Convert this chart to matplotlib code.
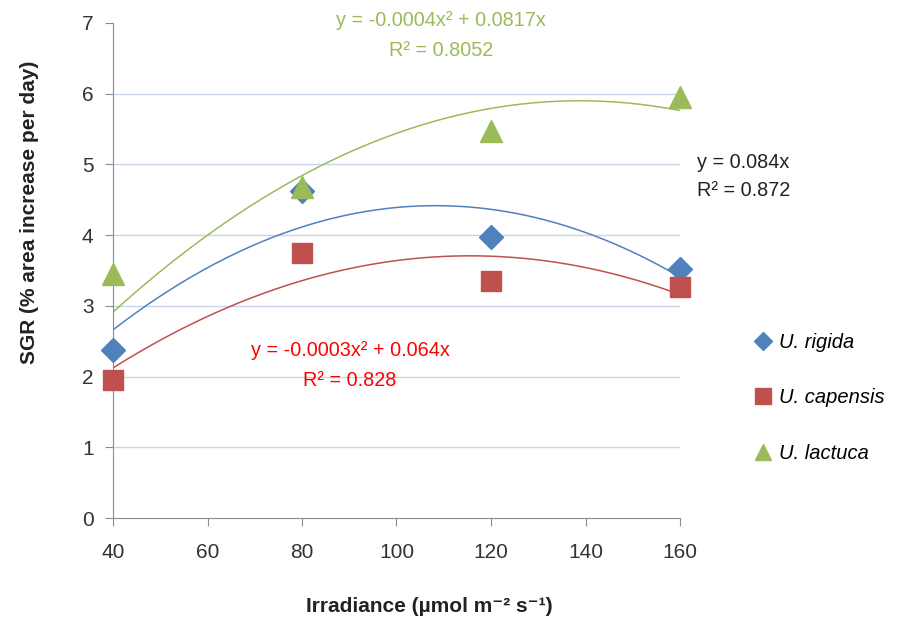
import numpy as np
import matplotlib
matplotlib.use("Agg")
import matplotlib.pyplot as plt

plt.rcParams['font.family'] = ['Liberation Sans', 'DejaVu Sans']

irradiance = [40, 80, 120, 160]
rigida = [2.37, 4.63, 3.97, 3.52]
capensis = [1.95, 3.75, 3.35, 3.27]
lactuca = [3.45, 4.68, 5.47, 5.95]

series = [
    ("U. rigida", rigida, "D", "#4F81BD", 12),
    ("U. capensis", capensis, "s", "#C0504D", 15),
    ("U. lactuca", lactuca, "^", "#9BBB59", 16),
]

W, H = 900, 630
fig = plt.figure(figsize=(9, 6.3), dpi=100)
ax = fig.add_axes([113 / W, 1 - 518 / H, (680 - 113) / W, (518 - 23) / H])

x = np.array(irradiance, dtype=float)
xs = np.linspace(40, 160, 200)
handles = []
for name, ys, mk, col, ms in series:
    # quadratic trendline forced through the origin (as in Excel)
    A = np.column_stack([x ** 2, x])
    coef, *_ = np.linalg.lstsq(A, np.array(ys), rcond=None)
    ax.plot(xs, coef[0] * xs ** 2 + coef[1] * xs, color=col, lw=1.1, zorder=2)
for name, ys, mk, col, ms in series:
    h, = ax.plot(irradiance, ys, linestyle="none", marker=mk, markersize=ms,
                 color=col, markeredgecolor=col, clip_on=False, zorder=3, label=name)
    handles.append(h)

ax.set_xlim(40, 160)
ax.set_ylim(0, 7)
ax.set_xticks(range(40, 161, 20))
ax.set_yticks(range(0, 8))
ax.yaxis.grid(True, color="#C9D5EA", lw=1)
ax.set_axisbelow(True)
gl = ax.get_ygridlines()
gl[0].set_visible(False)
gl[-1].set_visible(False)
for s in ["top", "right"]:
    ax.spines[s].set_visible(False)
for s in ["left", "bottom"]:
    ax.spines[s].set_color("#8C8C8C")
ax.tick_params(axis="both", colors="#8C8C8C", labelcolor="#333333", labelsize=15,
               length=6, direction="out")
ax.tick_params(axis="x", pad=12)
ax.tick_params(axis="y", pad=8)

fig.text(30 / W, 1 - 212 / H, "SGR (% area increase per day)", rotation=90,
         ha="center", va="center", fontsize=15, fontweight="bold", color="#222222")
fig.text(429 / W, 1 - 607 / H, "Irradiance (µmol m⁻² s⁻¹)", ha="center", va="center",
         fontsize=15, fontweight="bold", color="#222222")

fig.text(441 / W, 1 - 20 / H, "y = -0.0004x² + 0.0817x", ha="center", va="center",
         fontsize=14.3, color="#9BBB59")
fig.text(441 / W, 1 - 50 / H, "R² = 0.8052", ha="center", va="center",
         fontsize=14.3, color="#9BBB59")
fig.text(697 / W, 1 - 162 / H, "y = 0.084x", ha="left", va="center",
         fontsize=14.3, color="#222222")
fig.text(697 / W, 1 - 191 / H, "R² = 0.872", ha="left", va="center",
         fontsize=14.3, color="#222222")
fig.text(350 / W, 1 - 351 / H, "y = -0.0003x² + 0.064x", ha="center", va="center",
         fontsize=14.3, color="#FF0000")
fig.text(350 / W, 1 - 380 / H, "R² = 0.828", ha="center", va="center",
         fontsize=14.3, color="#FF0000")

fig.legend(handles=handles, loc="upper left", bbox_to_anchor=(737 / W, 1 - 315 / H),
           frameon=False, prop={"style": "italic", "size": 14.5}, labelspacing=1.8,
           handlelength=0.8, handletextpad=0.4, markerscale=0.75)

fig.savefig("out.png", dpi=100)
